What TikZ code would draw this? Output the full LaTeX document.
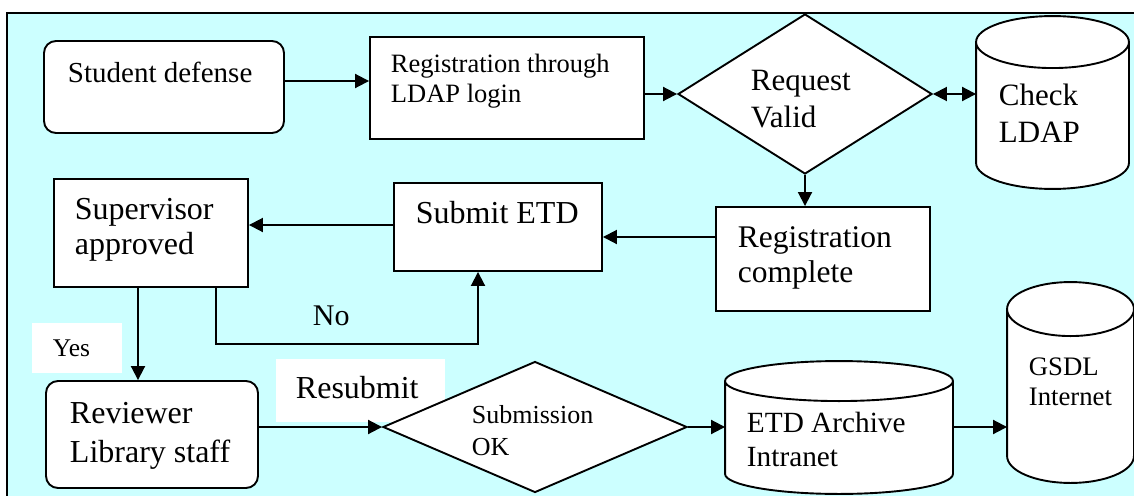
\documentclass[tikz,border=0pt]{standalone}
\usepackage{fontspec}
\setmainfont{Liberation Serif}
\usetikzlibrary{arrows.meta,shapes.geometric,calc}
\definecolor{bgcyan}{HTML}{CCFFFF}
\newcommand\drawcyl[2]{%
 \filldraw[fill=white] let \p1=(#1.north west), \p2=(#1.south east), \n1={(\x2-\x1)/2} in
   (\x1,\y1-#2pt) -- (\x1,\y2+#2pt) arc[start angle=180,end angle=360,x radius=\n1,y radius=#2pt]
   -- (\x2,\y1-#2pt) arc[start angle=0,end angle=180,x radius=\n1,y radius=#2pt] -- cycle
   (\x1,\y1-#2pt) arc[start angle=180,end angle=360,x radius=\n1,y radius=#2pt];
}
\begin{document}
\begin{tikzpicture}[x=1pt,y=-1pt,line width=1.9pt,
  box/.style={draw,fill=white,inner sep=0pt},
  rbox/.style={box,rounded corners=12pt},
  dia/.style={draw,fill=white,diamond,inner sep=0pt},
  region/.style={inner sep=0pt},
  lab/.style={fill=white,inner sep=0pt},
  txt/.style={anchor=base west,inner sep=0pt,align=left},
  arr/.style={-{Triangle[length=14pt,width=14pt]}},
  arrtwo/.style={{Triangle[length=14pt,width=14pt]}-{Triangle[length=14pt,width=14pt]}}]
\useasboundingbox (0,0) rectangle (1134,495);
\clip (0,0) rectangle (1134,495);
\fill[bgcyan] (7,13) rectangle (1150,510);
\draw (7,13) rectangle (1150,510);

% white label backgrounds (behind the shapes)
\node[lab,minimum width=90pt,minimum height=50pt] (yesbox) at (77,348) {};
\node[lab,minimum width=169pt,minimum height=63pt] (resbox) at (360.5,390.5) {};

% shapes
\node[rbox,minimum width=240pt,minimum height=92pt] (sd) at (164,87) {};
\node[box,minimum width=274pt,minimum height=102pt] (reg) at (507,88) {};
\node[dia,minimum width=254pt,minimum height=160pt] (rv) at (805,94) {};
\node[region,minimum width=151pt,minimum height=171pt] (ldap) at (1052.5,102.5) {};
\drawcyl{ldap}{26}
\node[box,minimum width=214pt,minimum height=104pt] (rc) at (823,259) {};
\node[box,minimum width=208pt,minimum height=88pt] (se) at (498,227) {};
\node[box,minimum width=194pt,minimum height=108pt] (sa) at (151,233) {};
\node[rbox,minimum width=212pt,minimum height=107pt] (rl) at (152,434.5) {};
\node[dia,minimum width=304pt,minimum height=131pt] (so) at (535,427) {};
\node[region,minimum width=226pt,minimum height=131pt] (eta) at (839,427.5) {};
\drawcyl{eta}{20}
\node[region,minimum width=125pt,minimum height=199pt] (gs) at (1070.5,382.5) {};
\drawcyl{gs}{27}

% texts (anchor = baseline of the last line)
\node[txt,font=\fontsize{29}{33}\selectfont] (tsd) at (67,82) {Student defense};
\node[txt,font=\fontsize{26.5}{30}\selectfont] (treg) at (390,102) {Registration through\\LDAP login};
\node[txt,font=\fontsize{31}{37}\selectfont] (trv) at (750,127) {Request\\Valid};
\node[txt,font=\fontsize{31}{37}\selectfont] (tldap) at (998,142) {Check\\LDAP};
\node[txt,font=\fontsize{31.5}{35}\selectfont] (trc) at (737,282) {Registration\\complete};
\node[txt,font=\fontsize{32}{36}\selectfont] (tse) at (415,223) {Submit ETD};
\node[txt,font=\fontsize{32}{35}\selectfont] (tsa) at (74,254) {Supervisor\\approved};
\node[txt,font=\fontsize{30}{34}\selectfont] (tno) at (312,325) {No};
\node[txt,font=\fontsize{25.5}{30}\selectfont] (tyes) at (52,356) {Yes};
\node[txt,font=\fontsize{32}{39}\selectfont] (trl) at (69,462) {Reviewer\\Library staff};
\node[txt,font=\fontsize{32}{36}\selectfont] (tres) at (295,398) {Resubmit};
\node[txt,font=\fontsize{26}{32}\selectfont] (tso) at (471,455) {Submission\\OK};
\node[txt,font=\fontsize{29.3}{34}\selectfont] (teta) at (746,466) {ETD Archive\\Intranet};
\node[txt,font=\fontsize{26.7}{30}\selectfont] (tgs) at (1028,405) {GSDL\\Internet};

% helper coordinates
\coordinate (ya) at (0,81);
\coordinate (yb) at (0,237);
\coordinate (yc) at (0,225);
\coordinate (yd) at (0,427);
\coordinate (nob) at (216,344);
\coordinate (nor) at (478,344);
\coordinate (yesx) at (138,0);

% connectors
\draw[arr] (sd.east |- ya) -- (reg.west |- ya);
\draw[arr] (reg.east |- rv.west) -- (rv.west);
\draw[arrtwo] (rv.east) -- (rv.east -| ldap.west);
\draw[arr] (rv.south) -- (rv.south |- rc.north);
\draw[arr] (rc.west |- yb) -- (se.east |- yb);
\draw[arr] (se.west |- yc) -- (sa.east |- yc);
\draw[arr] (sa.south -| nob) -- (nob) -- (nor) -- (nor |- se.south);
\draw[arr] (sa.south -| yesx) -- (yesx |- rl.north);
\draw[arr] (rl.east |- so.west) -- (so.west);
\draw[arr] (so.east) -- (so.east -| eta.west);
\draw[arr] (eta.east |- yd) -- (gs.west |- yd);
\end{tikzpicture}
\end{document}
